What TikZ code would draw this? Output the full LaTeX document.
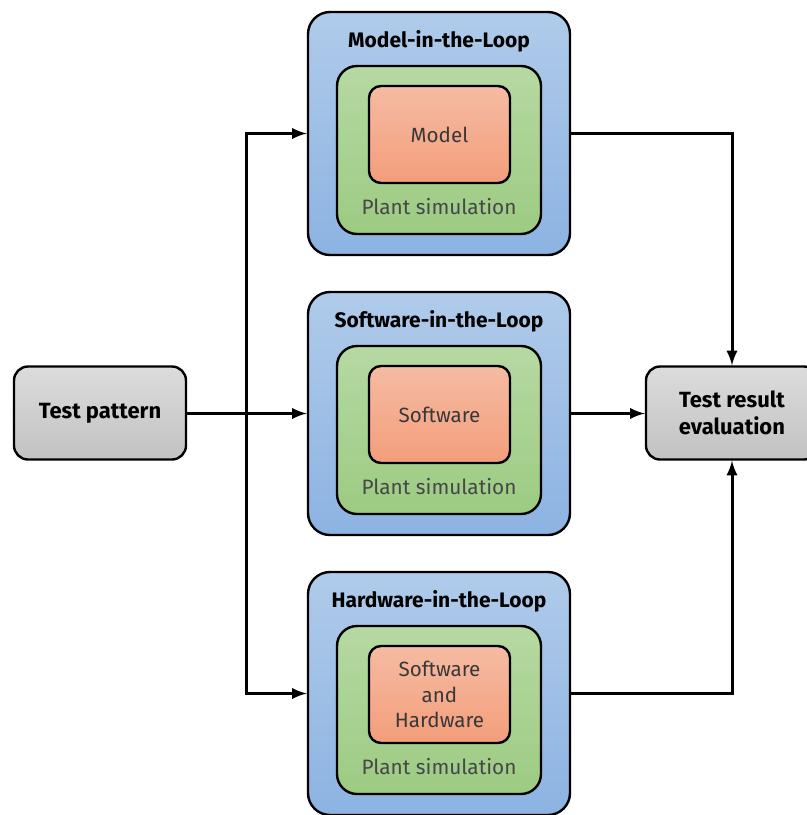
\documentclass[tikz,border=0pt]{standalone}
\usepackage{fontspec}
\setmainfont{Fira Sans}
\usetikzlibrary{positioning,arrows}
\definecolor{blueT}{HTML}{B0CBEA}
\definecolor{blueB}{HTML}{8CB3E2}
\definecolor{greenT}{HTML}{B6D9A3}
\definecolor{greenB}{HTML}{9CCB82}
\definecolor{redT}{HTML}{F5BBA3}
\definecolor{redB}{HTML}{F39E7A}
\definecolor{grayT}{HTML}{DCDCDC}
\definecolor{grayB}{HTML}{C2C2C2}
\tikzset{
  loopbox/.style={draw,line width=1.2pt,rounded corners=11pt,top color=blueT,bottom color=blueB,minimum width=131pt,minimum height=121.5pt},
  plantbox/.style={draw,line width=1.2pt,rounded corners=10pt,top color=greenT,bottom color=greenB,minimum width=102pt,minimum height=84pt},
  unitbox/.style={draw,line width=1.2pt,rounded corners=6pt,top color=redT,bottom color=redB,minimum width=70.5pt,minimum height=48.5pt,align=center,text=black!78,font=\fontsize{10.3}{12.6}\selectfont},
  endbox/.style={draw,line width=1.2pt,rounded corners=7pt,top color=grayT,bottom color=grayB,minimum width=86pt,minimum height=46.5pt,align=center,font=\fontsize{11}{13.5}\selectfont\bfseries},
  looptitle/.style={font=\fontsize{10.5}{12}\selectfont\bfseries},
  plantlabel/.style={text=black!72,font=\fontsize{10.4}{12}\selectfont},
  flow/.style={line width=1.5pt,-latex}
}
\begin{document}
\begin{tikzpicture}[x=0.5pt,y=-0.5pt]
\useasboundingbox (0,0) rectangle (807,815);
% test input and evaluation
\node [endbox] (pattern) at (100,413) {Test pattern};
\node [endbox] (eval) at (732,413) {Test result\\evaluation};
% model-in-the-loop
\node [loopbox] (mil) at (439,133.5) {};
\node [looptitle] (milT) at (439,41) {Model-in-the-Loop};
\node [plantbox] (milP) at (439,150) {};
\node [plantlabel] (milL) at (439,207) {Plant simulation};
\node [unitbox] (milU) at (439.5,134.5) {Model};
% software-in-the-loop
\node [loopbox] (sil) at (439,413.5) {};
\node [looptitle] (silT) at (439,321) {Software-in-the-Loop};
\node [plantbox] (silP) at (439,430) {};
\node [plantlabel] (silL) at (439,487) {Plant simulation};
\node [unitbox] (silU) at (439.5,414.5) {Software};
% hardware-in-the-loop
\node [loopbox] (hil) at (439,693.5) {};
\node [looptitle] (hilT) at (439,601) {Hardware-in-the-Loop};
\node [plantbox] (hilP) at (439,710) {};
\node [plantlabel] (hilL) at (439,767) {Plant simulation};
\node [unitbox] (hilU) at (439.5,694.5) {Software\\and\\Hardware};
% connectors
\coordinate (split) at (246,413.5);
\draw [line width=1.5pt] (pattern.east |- split) -- (split);
\draw [flow] (split) -- (sil.west);
\draw [flow] (split) |- (mil.west);
\draw [flow] (split) |- (hil.west);
\draw [flow] (mil.east) -| (eval.north);
\draw [flow] (sil.east) -- (eval.west |- sil.east);
\draw [flow] (hil.east) -| (eval.south);
\end{tikzpicture}
\end{document}
